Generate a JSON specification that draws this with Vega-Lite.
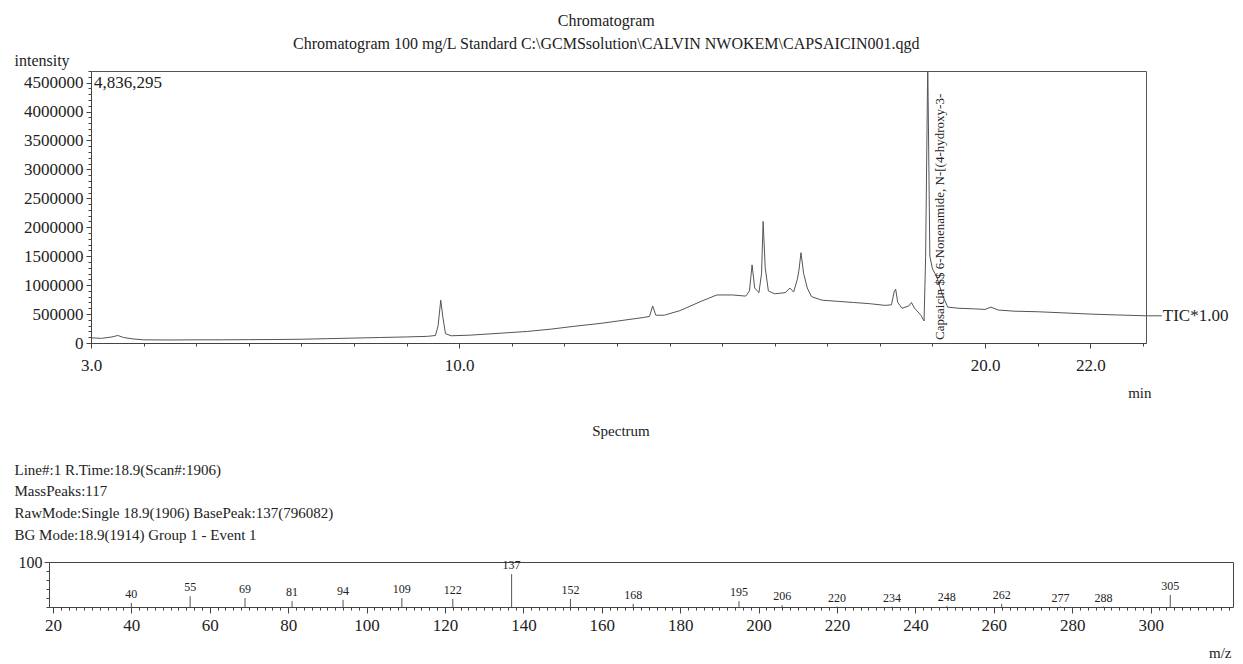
{
  "$schema": "https://vega.github.io/schema/vega-lite/v6.json",
  "background": "white",
  "padding": {"left": 13, "top": 12, "right": 0, "bottom": 0},
  "config": {
    "font": "Liberation Serif",
    "view": {"stroke": "#555", "strokeWidth": 1},
    "axis": {"domainColor": "#444", "tickColor": "#444", "labelColor": "#222", "titleColor": "#222", "grid": false, "labelFont": "Liberation Serif", "titleFont": "Liberation Serif", "titleFontWeight": "normal", "labelFlush": false},
    "title": {"font": "Liberation Serif", "fontWeight": "normal", "color": "#222"},
    "text": {"font": "Liberation Serif", "color": "#222"}
  },
  "title": {"text": ["Chromatogram", "Chromatogram 100 mg/L Standard  C:\\GCMSsolution\\CALVIN NWOKEM\\CAPSAICIN001.qgd"], "fontSize": 16, "lineHeight": 23, "anchor": "middle", "dx": -38, "offset": 0},
  "concat": [
    {
      "width": 1055,
      "height": 272,
      "data": {"values": [
        {"t": 3.00, "v": 90000}, {"t": 3.20, "v": 80000}, {"t": 3.40, "v": 105000}, {"t": 3.51, "v": 130000}, {"t": 3.62, "v": 95000},
        {"t": 3.80, "v": 70000}, {"t": 4.00, "v": 55000}, {"t": 4.50, "v": 52000}, {"t": 5.00, "v": 55000}, {"t": 5.50, "v": 55000},
        {"t": 6.00, "v": 58000}, {"t": 6.50, "v": 60000}, {"t": 7.00, "v": 65000}, {"t": 7.50, "v": 75000}, {"t": 8.00, "v": 85000},
        {"t": 8.50, "v": 95000}, {"t": 9.00, "v": 105000}, {"t": 9.40, "v": 115000}, {"t": 9.55, "v": 130000}, {"t": 9.60, "v": 300000},
        {"t": 9.65, "v": 740000}, {"t": 9.69, "v": 450000}, {"t": 9.74, "v": 160000}, {"t": 9.85, "v": 125000}, {"t": 10.20, "v": 135000},
        {"t": 10.80, "v": 170000}, {"t": 11.30, "v": 200000}, {"t": 11.75, "v": 240000}, {"t": 12.20, "v": 290000}, {"t": 12.70, "v": 340000},
        {"t": 13.10, "v": 390000}, {"t": 13.50, "v": 440000}, {"t": 13.62, "v": 460000}, {"t": 13.68, "v": 640000}, {"t": 13.74, "v": 480000},
        {"t": 13.90, "v": 480000}, {"t": 14.20, "v": 560000}, {"t": 14.60, "v": 720000}, {"t": 14.90, "v": 830000}, {"t": 15.20, "v": 830000},
        {"t": 15.45, "v": 810000}, {"t": 15.52, "v": 900000}, {"t": 15.57, "v": 1350000}, {"t": 15.62, "v": 950000}, {"t": 15.70, "v": 870000},
        {"t": 15.75, "v": 1200000}, {"t": 15.78, "v": 2100000}, {"t": 15.82, "v": 1300000}, {"t": 15.88, "v": 900000}, {"t": 16.00, "v": 850000},
        {"t": 16.20, "v": 870000}, {"t": 16.29, "v": 950000}, {"t": 16.36, "v": 880000}, {"t": 16.43, "v": 1100000}, {"t": 16.46, "v": 1250000},
        {"t": 16.50, "v": 1560000}, {"t": 16.55, "v": 1200000}, {"t": 16.62, "v": 950000}, {"t": 16.70, "v": 800000}, {"t": 16.90, "v": 740000},
        {"t": 17.20, "v": 720000}, {"t": 17.50, "v": 700000}, {"t": 17.80, "v": 680000}, {"t": 18.10, "v": 650000}, {"t": 18.22, "v": 660000},
        {"t": 18.27, "v": 880000}, {"t": 18.30, "v": 930000}, {"t": 18.34, "v": 700000}, {"t": 18.42, "v": 600000}, {"t": 18.55, "v": 640000},
        {"t": 18.60, "v": 700000}, {"t": 18.66, "v": 600000}, {"t": 18.78, "v": 480000}, {"t": 18.84, "v": 380000}, {"t": 18.87, "v": 1500000},
        {"t": 18.91, "v": 4836295}, {"t": 18.95, "v": 1500000}, {"t": 19.00, "v": 1280000}, {"t": 19.08, "v": 1150000}, {"t": 19.18, "v": 850000},
        {"t": 19.29, "v": 620000}, {"t": 19.50, "v": 600000}, {"t": 19.80, "v": 590000}, {"t": 20.00, "v": 580000}, {"t": 20.11, "v": 620000},
        {"t": 20.25, "v": 570000}, {"t": 20.55, "v": 550000}, {"t": 21.00, "v": 540000}, {"t": 21.50, "v": 520000}, {"t": 22.00, "v": 500000},
        {"t": 22.50, "v": 485000}, {"t": 23.06, "v": 470000}
      ]},
      "layer": [
        {
          "mark": {"type": "line", "color": "#555", "strokeWidth": 1, "clip": true},
          "encoding": {
            "x": {"field": "t", "type": "quantitative", "scale": {"domain": [3, 23.06], "nice": false, "zero": false},
              "axis": {"orient": "bottom", "values": [3, 10, 20, 22], "format": ".1f", "labelFontSize": 17, "tickSize": 5, "labelPadding": 9,
                "title": "min", "titleFontSize": 15, "titleX": 1060, "titleY": 49, "titleAlign": "right", "titleBaseline": "middle"}},
            "y": {"field": "v", "type": "quantitative", "scale": {"domain": [0, 4700000], "nice": false, "zero": false},
              "axis": {"orient": "left", "values": [0, 500000, 1000000, 1500000, 2000000, 2500000, 3000000, 3500000, 4000000, 4500000], "format": "d", "labelFontSize": 17, "tickSize": 5, "labelPadding": 3,
                "title": "intensity", "titleFontSize": 16, "titleAngle": 0, "titleX": -77, "titleY": -11, "titleAlign": "left", "titleBaseline": "middle"}}
          }
        },
        {
          "data": {"values": [{"t": 3, "v": 4700000, "label": "4,836,295"}]},
          "mark": {"type": "text", "align": "left", "baseline": "top", "dx": 3, "dy": 4, "fontSize": 17},
          "encoding": {
            "x": {"field": "t", "type": "quantitative", "axis": {"orient": "bottom", "tickCount": 20, "labels": false, "domain": false, "tickSize": 3, "title": null}},
            "y": {"field": "v", "type": "quantitative", "axis": {"orient": "left", "tickCount": 47, "labels": false, "domain": false, "tickSize": 3, "title": null}},
            "text": {"field": "label"}
          }
        },
        {
          "data": {"values": [{"t": 18.91, "v": 0, "label": "Capsaicin $$ 6-Nonenamide, N-[(4-hydroxy-3-"}]},
          "mark": {"type": "text", "angle": 270, "align": "left", "baseline": "middle", "dx": 3, "dy": 12, "fontSize": 13},
          "encoding": {
            "x": {"field": "t", "type": "quantitative", "axis": null},
            "y": {"field": "v", "type": "quantitative", "axis": null},
            "text": {"field": "label"}
          }
        },
        {
          "data": {"values": [{"t": 23.06, "t2": 23.36, "v": 470000}]},
          "mark": {"type": "rule", "color": "#555", "strokeWidth": 1},
          "encoding": {
            "x": {"field": "t", "type": "quantitative", "axis": null},
            "x2": {"field": "t2"},
            "y": {"field": "v", "type": "quantitative", "axis": null}
          }
        },
        {
          "data": {"values": [{"t": 23.36, "v": 470000, "label": "TIC*1.00"}]},
          "mark": {"type": "text", "align": "left", "baseline": "middle", "dx": 1, "fontSize": 17},
          "encoding": {
            "x": {"field": "t", "type": "quantitative", "axis": null},
            "y": {"field": "v", "type": "quantitative", "axis": null},
            "text": {"field": "label"}
          }
        }
      ],
      "resolve": {"axis": {"x": "independent", "y": "independent"}}
    },
    {
      "width": 1142,
      "height": 45,
      "view": {"stroke": null},
      "title": {"text": "Spectrum", "fontSize": 15, "anchor": "middle", "frame": "group", "dx": -41, "offset": 23},
      "data": {"values": [
        {"mz": 40, "rel": 9}, {"mz": 55, "rel": 24}, {"mz": 69, "rel": 20}, {"mz": 81, "rel": 13}, {"mz": 94, "rel": 16},
        {"mz": 109, "rel": 20}, {"mz": 122, "rel": 18}, {"mz": 137, "rel": 73}, {"mz": 152, "rel": 18}, {"mz": 168, "rel": 7},
        {"mz": 195, "rel": 13}, {"mz": 206, "rel": 4}, {"mz": 220, "rel": 1}, {"mz": 234, "rel": 1}, {"mz": 248, "rel": 2},
        {"mz": 262, "rel": 7}, {"mz": 277, "rel": 1}, {"mz": 288, "rel": 1}, {"mz": 305, "rel": 27}
      ]},
      "layer": [
        {
          "mark": {"type": "rule", "color": "#555", "strokeWidth": 1},
          "encoding": {
            "x": {"field": "mz", "type": "quantitative", "scale": {"domain": [19, 321], "range": [-42, 1142], "nice": false, "zero": false},
              "axis": {"orient": "bottom", "values": [20, 40, 60, 80, 100, 120, 140, 160, 180, 200, 220, 240, 260, 280, 300], "labelFontSize": 17, "tickSize": 6, "labelPadding": 4,
                "title": "m/z", "titleFontSize": 15, "titleX": 1140, "titleY": 45, "titleAlign": "right", "titleBaseline": "middle"}},
            "y": {"field": "rel", "type": "quantitative", "scale": {"domain": [0, 100], "nice": false},
              "axis": {"orient": "left", "offset": 42, "values": [100], "labelFontSize": 16, "tickSize": 5, "labelPadding": 2,
                "title": ["Line#:1  R.Time:18.9(Scan#:1906)", "MassPeaks:117", "RawMode:Single 18.9(1906)  BasePeak:137(796082)", "BG Mode:18.9(1914)  Group 1 - Event 1"],
                "titleFontSize": 15, "titleAngle": 0, "titleAlign": "left", "titleBaseline": "top", "titleX": -35, "titleY": -100, "titleLineHeight": 21.7}},
            "y2": {"datum": 0}
          }
        },
        {
          "mark": {"type": "text", "fontSize": 12, "baseline": "bottom", "dy": -2},
          "encoding": {
            "x": {"field": "mz", "type": "quantitative", "axis": {"orient": "bottom", "tickCount": 151, "labels": false, "domain": false, "tickSize": 3, "title": null}},
            "y": {"field": "rel", "type": "quantitative", "axis": {"orient": "left", "offset": 42, "values": [0, 20, 40, 60, 80], "labels": false, "domain": false, "tickSize": 3, "title": null}},
            "text": {"field": "mz", "type": "quantitative"}
          }
        },
        {
          "mark": {"type": "point", "opacity": 0},
          "encoding": {
            "x": {"field": "mz", "type": "quantitative", "axis": {"orient": "top", "ticks": false, "labels": false, "domain": true, "title": null}},
            "y": {"field": "rel", "type": "quantitative", "axis": {"orient": "right", "ticks": false, "labels": false, "domain": true, "title": null}}
          }
        }
      ],
      "resolve": {"axis": {"x": "independent", "y": "independent"}}
    }
  ],
  "columns": 1,
  "spacing": 23
}
